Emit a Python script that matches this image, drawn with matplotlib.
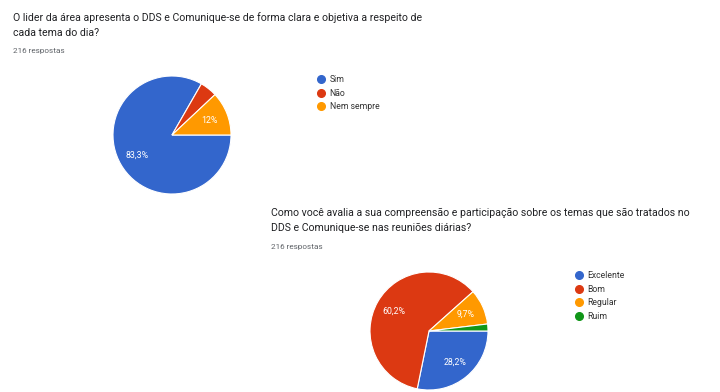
import matplotlib
matplotlib.use("Agg")
import matplotlib.pyplot as plt
from matplotlib.lines import Line2D
import numpy as np

plt.rcParams['font.family'] = ['Roboto', 'DejaVu Sans']

# ---- data ----
q1_title = "O lider da área apresenta o DDS e Comunique-se de forma clara e objetiva a respeito de\ncada tema do dia?"
q1_responses = "216 respostas"
q1_labels = ["Sim", "Não", "Nem sempre"]
q1_values = [83.3, 4.7, 12.0]

q2_title = "Como você avalia a sua compreensão e participação sobre os temas que são tratados no\nDDS e Comunique-se nas reuniões diárias?"
q2_responses = "216 respostas"
q2_labels = ["Excelente", "Bom", "Regular", "Ruim"]
q2_values = [28.2, 60.2, 9.7, 1.9]

colors = ["#3366CC", "#DC3912", "#FF9900", "#109618"]

W, H = 720, 392
fig = plt.figure(figsize=(W / 100, H / 100), dpi=100)
fig.patch.set_facecolor("white")


def fmt(v):
    s = f"{v:.1f}".replace(".", ",")
    if s.endswith(",0"):
        s = s[:-2]
    return s + "%"


def draw_pie(cx, cy, r, values, labels, cols, leg_x, leg_y):
    ax = fig.add_axes([(cx - r) / W, 1 - (cy + r) / H, 2 * r / W, 2 * r / H])
    ax.pie(values, colors=cols, startangle=0, counterclock=False,
           radius=1, wedgeprops=dict(edgecolor="white", linewidth=0.8))
    ang = 0.0
    for v in values:
        mid = ang - v / 2 * 3.6
        ang -= v * 3.6
        if v >= 5:
            a = np.deg2rad(mid)
            ax.text(0.69 * np.cos(a), 0.69 * np.sin(a), fmt(v), color="white",
                    ha="center", va="center", fontsize=6.3)
    ax.set_xlim(-1, 1)
    ax.set_ylim(-1, 1)
    ax.set_aspect("equal")
    ax.axis("off")
    handles = [Line2D([], [], marker="o", linestyle="", markersize=5.5,
                      markerfacecolor=c, markeredgecolor=c) for c in cols]
    fig.legend(handles, labels, loc="upper left",
               bbox_to_anchor=(leg_x / W, 1 - leg_y / H), frameon=False,
               fontsize=6.2, handlelength=0.8, handletextpad=0.55,
               labelspacing=0.53, borderpad=0, borderaxespad=0,
               labelcolor="#333333")


def draw_title(x, y, title, resp):
    fig.text(x / W, 1 - y / H, title, fontsize=7.55, color="#202124",
             ha="left", va="top", linespacing=1.6)
    fig.text(x / W, 1 - (y + 36) / H, resp, fontsize=5.9, color="#5f6368",
             ha="left", va="top")


draw_title(13, 12, q1_title, q1_responses)
draw_title(271, 208, q2_title, q2_responses)

draw_pie(172, 135, 59, q1_values, q1_labels, colors[:3], 318, 75)
draw_pie(429, 331, 59, q2_values, q2_labels, colors, 576, 271)

fig.savefig("out.png", dpi=100, facecolor="white")
